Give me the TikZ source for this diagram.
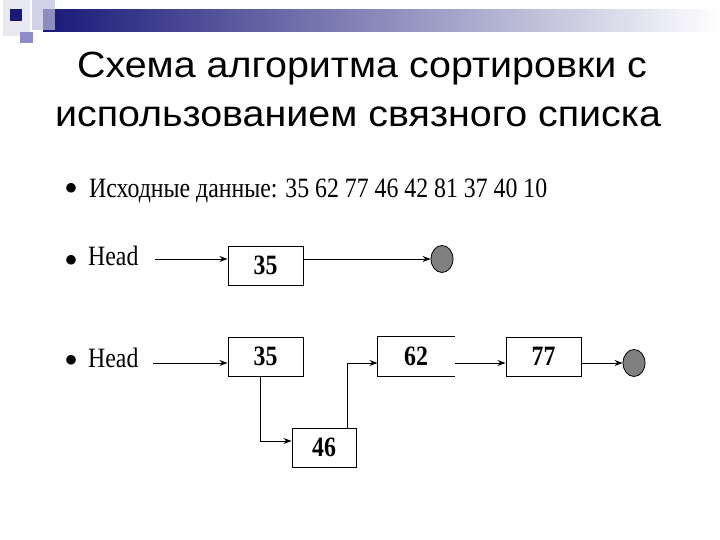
\documentclass[tikz,border=0pt]{standalone}
\usepackage{fontspec}
\setmainfont{Liberation Serif}
\newfontfamily\titlefont{Liberation Sans}[FakeStretch=1.08]
\newfontfamily\bodyfont{Liberation Serif}[FakeStretch=0.85]
\usetikzlibrary{arrows.meta,shapes.geometric,calc}
\definecolor{navy}{RGB}{24,24,120}
\definecolor{lav1}{RGB}{232,232,242}
\definecolor{lav2}{RGB}{190,190,222}
\definecolor{lav3}{RGB}{140,140,200}
\definecolor{nodegray}{RGB}{128,128,128}
\begin{document}
\begin{tikzpicture}[x=1pt,y=-1pt,
  box/.style={draw, line width=1pt, minimum width=75pt, minimum height=39pt, inner sep=0pt,
    font=\bodyfont\bfseries\fontsize{28}{28}\selectfont},
  openbox/.style={box, draw=none},
  conn/.style={line width=1pt, -{Stealth[length=8pt,width=6pt]}},
  plain/.style={line width=1pt},
  endnode/.style={ellipse, draw, line width=0.8pt, fill=nodegray, minimum width=22pt, minimum height=27pt, inner sep=0pt},
  rowtext/.style={anchor=base west, inner sep=0pt, font=\bodyfont\fontsize{28}{28}\selectfont},
  bullet/.style={anchor=base west, inner sep=0pt, font=\fontsize{40}{40}\selectfont},
  titletext/.style={anchor=base, inner sep=0pt, font=\titlefont\fontsize{36.5}{36.5}\selectfont}
]
\useasboundingbox (0,0) rectangle (720,540);
% corner decoration
\fill[lav1] (3,0) rectangle (30,36);
\shade[left color=navy, right color=white] (43,10) rectangle (720,32);
\fill[lav2, opacity=0.7] (32,0) rectangle (55,30);
\fill[navy] (10,9) rectangle (22,21);
\fill[lav3] (20,32) rectangle (33,43);
% title
\node[titletext] (t1) at (362,78) {Схема алгоритма сортировки с};
\node[titletext] (t2) at (358,127) {использованием связного списка};
% list
\node[bullet] (bu1) at (64,202) {•};
\node[rowtext] (src) at (89,197) {Исходные данные: 35 62 77 46 42 81 37 40 10};
\node[bullet] (bu2) at (64,273) {•};
\node[rowtext] (head1) at (88,265) {Head};
\node[bullet] (bu3) at (64,373) {•};
\node[rowtext] (head2) at (88,367) {Head};
% row 1
\coordinate (h1s) at (155,259);
\node[box] (a35) at (265.5,265.5) {35};
\node[endnode] (e1) at (442,259) {};
\draw[conn] (h1s) -- (a35.west |- h1s);
\draw[conn] (a35.east |- h1s) -- (e1.west);
% row 2
\coordinate (h2s) at (153,363);
\node[box] (b35) at (265.5,356.5) {35};
\node[box, minimum width=64pt] (b46) at (324,447.5) {46};
\node[openbox, minimum width=76pt] (b62) at (416,356.5) {62};
\node[box] (b77) at (543.5,356.5) {77};
\node[endnode] (e2) at (634,363) {};
\draw[plain] (b62.north east) -- (b62.north west) -- (b62.south west) -- (b62.south east);
\draw[conn] (h2s) -- (b35.west |- h2s);
\draw[conn] ($(b35.south)+(-5.5,0)$) |- ($(b46.west)+(0,-6.5)$);
\draw[conn] ($(b46.north)+(23,0)$) |- (b62.west |- h2s);
\draw[conn] (b62.east |- h2s) -- (b77.west |- h2s);
\draw[conn] (b77.east |- h2s) -- (e2.west);
\end{tikzpicture}
\end{document}
